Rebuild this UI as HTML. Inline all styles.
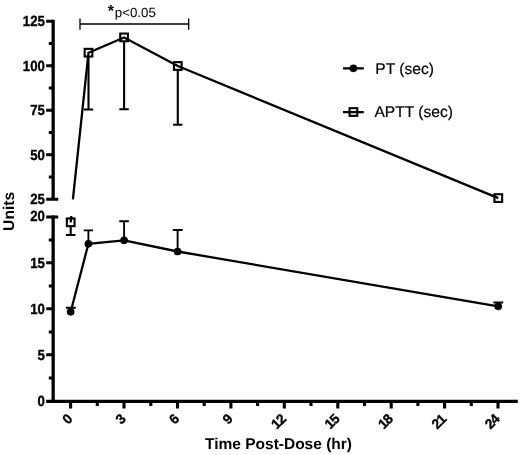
<!DOCTYPE html>
<html>
<head>
<meta charset="utf-8">
<title>Chart</title>
<style>
html,body{margin:0;padding:0;background:#fff;}
body{width:520px;height:455px;overflow:hidden;font-family:"Liberation Sans",sans-serif;}
svg{display:block;will-change:transform;}
svg text{font-family:"Liberation Sans",sans-serif;fill:#000;text-rendering:geometricPrecision;}
.b{font-weight:bold;}
</style>
</head>
<body>
<svg width="520" height="455" viewBox="0 0 520 455">
<rect x="0" y="0" width="520" height="455" fill="#fff"/>

<!-- axes -->
<g stroke="#000" stroke-width="3.1" fill="none" stroke-linecap="butt">
  <!-- y axis upper -->
  <path stroke-width="3.3" d="M53.15 19.8 V199.3"/>
  <!-- y axis lower -->
  <path stroke-width="3.3" d="M53.15 215.5 V402.9"/>
  <!-- x axis -->
  <path d="M51.8 401.4 H517.8"/>
  <!-- y major ticks upper -->
  <path d="M46.2 21.3 H53.3 M46.2 65.8 H53.3 M46.2 110.3 H53.3 M46.2 154.8 H53.3 M46.2 199.3 H58.2"/>
  <!-- y minor upper -->
  <path d="M48.8 43.5 H53.3 M48.8 88 H53.3 M48.8 132.5 H53.3 M48.8 177 H53.3"/>
  <!-- y major lower -->
  <path d="M46.2 217 H58.2 M46.2 262.7 H53.3 M46.2 308.7 H53.3 M46.2 354.8 H53.3 M46.2 401.4 H53.3"/>
  <!-- y minor lower -->
  <path d="M48.8 240 H53.3 M48.8 286 H53.3 M48.8 332 H53.3 M48.8 378 H53.3"/>
  <!-- x major ticks -->
  <path d="M70.6 401.4 V408.4 M124 401.4 V408.4 M177.5 401.4 V408.4 M230.9 401.4 V408.4 M284.3 401.4 V408.4 M337.8 401.4 V408.4 M391.2 401.4 V408.4 M444.6 401.4 V408.4 M498 401.4 V408.4"/>
  <!-- x minor ticks -->
  <path d="M97.3 401.4 V406 M150.8 401.4 V406 M204.2 401.4 V406 M257.6 401.4 V406 M311 401.4 V406 M364.5 401.4 V406 M417.9 401.4 V406 M471.3 401.4 V406"/>
</g>

<!-- y tick labels -->
<g class="b" font-size="14.7" text-anchor="end" stroke="#000" stroke-width="0.35" stroke-linejoin="round">
  <text transform="translate(44.9 26.10) scale(0.9 1)">125</text>
  <text transform="translate(44.9 70.70) scale(0.9 1)">100</text>
  <text transform="translate(44.9 115.20) scale(0.9 1)">75</text>
  <text transform="translate(44.9 159.60) scale(0.9 1)">50</text>
  <text transform="translate(44.9 204.10) scale(0.9 1)">25</text>
  <text transform="translate(44.9 221.40) scale(0.9 1)">20</text>
  <text transform="translate(44.9 267.80) scale(0.9 1)">15</text>
  <text transform="translate(44.9 313.80) scale(0.9 1)">10</text>
  <text transform="translate(44.9 359.80) scale(0.9 1)">5</text>
  <text transform="translate(44.9 406.30) scale(0.9 1)">0</text>
</g>

<!-- x tick labels (rotated) -->
<g class="b" font-size="13.8" stroke="#000" stroke-width="0.35" stroke-linejoin="round">
  <text transform="translate(73.1 419.8) rotate(-45)" x="-7.30">0</text>
  <text transform="translate(126.5 419.8) rotate(-45)" x="-7.30">3</text>
  <text transform="translate(180.0 419.8) rotate(-45)" x="-7.30">6</text>
  <text transform="translate(233.4 419.8) rotate(-45)" x="-7.30">9</text>
  <text transform="translate(286.8 419.8) rotate(-45)" x="-14.10 -7.30">12</text>
  <text transform="translate(340.3 419.8) rotate(-45)" x="-14.10 -7.30">15</text>
  <text transform="translate(393.7 419.8) rotate(-45)" x="-14.10 -7.30">18</text>
  <text transform="translate(447.1 419.8) rotate(-45)" x="-14.10 -7.30">21</text>
  <text transform="translate(500.5 419.8) rotate(-45)" x="-14.10 -7.30">24</text>
</g>

<!-- axis titles -->
<text class="b" font-size="15.5" x="205" y="449">Time Post-Dose (hr)</text>
<text class="b" font-size="15.6" text-anchor="middle" transform="translate(14.2 211.4) rotate(-90)">Units</text>

<!-- significance bracket -->
<g stroke="#000" stroke-width="1.3" fill="none">
  <path d="M80 24 H188.7 M80 18.6 V29.7 M188.7 18.6 V29.7"/>
</g>
<text class="b" font-size="16" x="107.8" y="15.6">*</text>
<text font-size="13.3" x="114.8" y="16.6">p&lt;0.05</text>

<!-- APTT series -->
<g stroke="#000" fill="none">
  <!-- error bars -->
  <g stroke-width="2.1">
    <path d="M88.5 57 V109.5 M83.8 109.5 H93.2"/>
    <path d="M124.1 42 V109.3 M119.4 109.3 H128.8"/>
    <path d="M177.8 70.5 V124.7 M173.1 124.7 H182.5"/>
    <path d="M70.7 227 V235 M65.9 235 H75.5"/>
  </g>
  <!-- connecting line, upper segment (clipped) -->
  <g stroke-width="2.3" stroke-linejoin="miter">
    <path d="M72.9 199.3 L88.5 52.7 L124.1 37.4 L177.8 66 L498.3 198.1"/>
    <path d="M70.7 222.3 L71.3 216"/>
  </g>
  <!-- squares -->
  <g stroke-width="2.1">
    <rect x="66.85" y="218.45" width="7.7" height="7.7"/>
    <rect x="84.65" y="48.85" width="7.7" height="7.7"/>
    <rect x="120.25" y="33.55" width="7.7" height="7.7"/>
    <rect x="173.95" y="62.15" width="7.7" height="7.7"/>
    <rect x="494.45" y="194.25" width="7.7" height="7.7"/>
  </g>
</g>

<!-- PT series -->
<g stroke="#000" fill="none">
  <g stroke-width="1.85">
    <path d="M70.7 311.8 V307.7 M65.9 307.7 H75.8"/>
    <path d="M88.4 243.8 V230.3 M83.7 230.3 H93.1"/>
    <path d="M124.1 240.3 V221.2 M119.3 221.2 H128.9"/>
    <path d="M177.6 251.5 V230 M172.8 230 H182.6"/>
    <path d="M498.2 306.3 V302.5 M493.4 302.5 H503.2"/>
  </g>
  <path stroke-width="2.3" d="M70.7 311.8 L88.4 243.8 L124.1 240.3 L177.6 251.5 L498.2 306.3"/>
</g>
<g fill="#000">
  <circle cx="70.7" cy="311.8" r="3.85"/>
  <circle cx="88.4" cy="243.8" r="3.85"/>
  <circle cx="124.1" cy="240.3" r="3.85"/>
  <circle cx="177.6" cy="251.5" r="3.85"/>
  <circle cx="498.2" cy="306.3" r="3.85"/>
</g>

<!-- legend -->
<g stroke="#000" fill="none">
  <path stroke-width="2.3" d="M343 68.3 H363.8 M343 112.1 H363.8"/>
  <rect stroke-width="2.1" x="349.55" y="108.15" width="7.7" height="7.7"/>
</g>
<circle cx="353.4" cy="68.3" r="3.85" fill="#000"/>
<text font-size="15.6" x="375.3" y="73.6" stroke="#000" stroke-width="0.2">PT (sec)</text>
<text font-size="15.6" x="374.4" y="117.3" stroke="#000" stroke-width="0.2">APTT (sec)</text>
</svg>
</body>
</html>
